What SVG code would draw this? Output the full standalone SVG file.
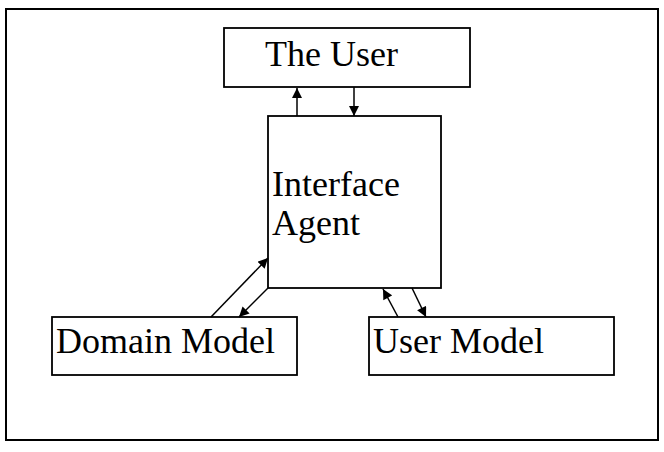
<svg xmlns="http://www.w3.org/2000/svg" width="664" height="452" viewBox="0 0 664 452">
<style>
.box{fill:#fff;stroke:#000;stroke-width:1.8}
.lbl{font-family:"Liberation Serif","Times New Roman",serif;font-size:36px;fill:#000}
.con{stroke:#000;stroke-width:1.5;fill:none;marker-end:url(#ah)}
</style>
<defs>
<marker id="ah" viewBox="0 0 10 10" refX="10" refY="5" markerWidth="11" markerHeight="10" markerUnits="userSpaceOnUse" orient="auto">
<path d="M0,0 L10,5 L0,10 z" fill="#000"/>
</marker>
</defs>
<rect x="0" y="0" width="664" height="452" fill="#fff"/>
<rect x="6" y="9" width="652" height="431" fill="none" stroke="#000" stroke-width="2"/>
<g id="user">
<rect class="box" x="224" y="28" width="246" height="59"/>
<text class="lbl" x="265" y="66">The User</text>
</g>
<g id="agent">
<rect class="box" x="268" y="116" width="173" height="172"/>
<text class="lbl" x="272" y="196">Interface</text>
<text class="lbl" x="272" y="235">Agent</text>
</g>
<g id="domain">
<rect class="box" x="52" y="317" width="245" height="58"/>
<text class="lbl" x="56" y="353">Domain Model</text>
</g>
<g id="usermodel">
<rect class="box" x="369" y="317" width="245" height="58"/>
<text class="lbl" x="373" y="353">User Model</text>
</g>
<g id="connectors">
<line class="con" x1="297" y1="116" x2="297" y2="88"/>
<line class="con" x1="354" y1="87" x2="354" y2="116"/>
<line class="con" x1="211" y1="317" x2="268" y2="258"/>
<line class="con" x1="268" y1="288" x2="239" y2="317"/>
<line class="con" x1="398" y1="317" x2="383" y2="289"/>
<line class="con" x1="412" y1="288" x2="426" y2="317"/>
</g>
</svg>
